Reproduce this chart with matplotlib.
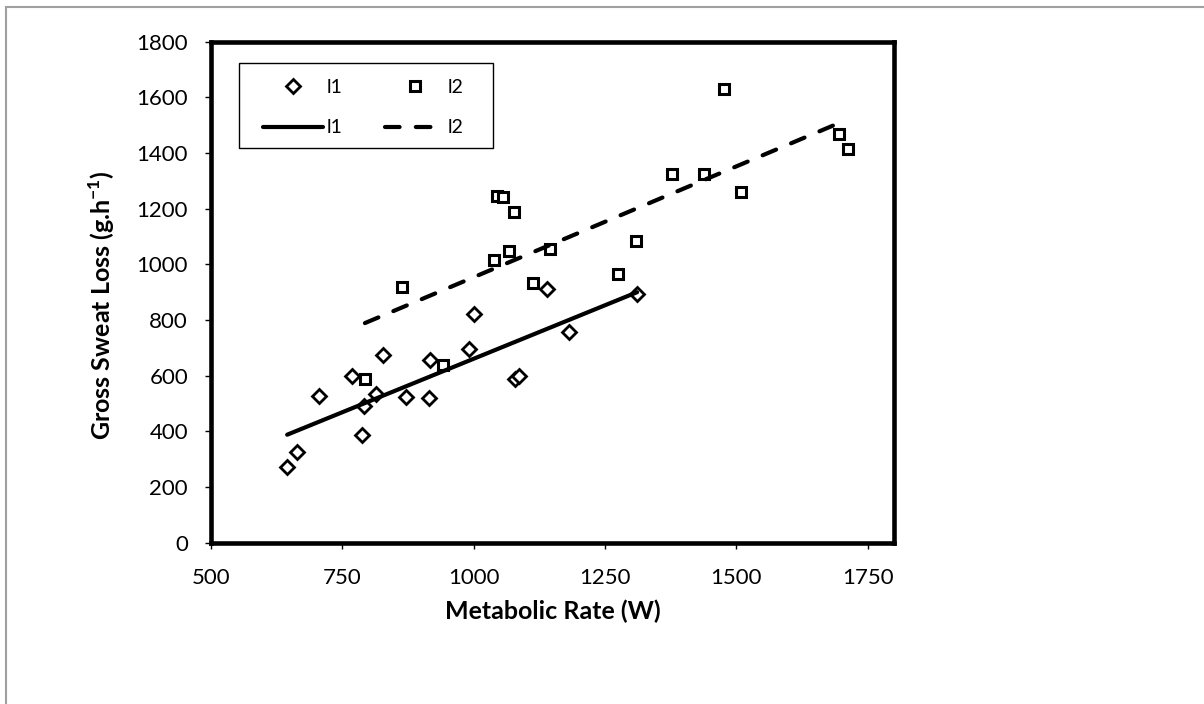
import matplotlib
matplotlib.use("Agg")
import matplotlib.pyplot as plt
from matplotlib.patches import Rectangle

plt.rcParams['font.family'] = ['Lato', 'DejaVu Sans']
plt.rcParams['mathtext.fontset'] = 'custom'
plt.rcParams['mathtext.rm'] = 'Lato'
plt.rcParams['mathtext.bf'] = 'Lato:bold'

# l1 (diamonds)
l1_x = [645, 664, 706, 768, 792, 788, 814, 828, 872, 915, 917, 992, 1000, 1078, 1086, 1181, 1140, 1311]
l1_y = [273, 325, 528, 600, 492, 387, 534, 674, 525, 521, 656, 696, 822, 588, 600, 756, 911, 893]
# l2 (squares)
l2_x = [793, 864, 942, 1039, 1044, 1056, 1067, 1076, 1112, 1145, 1274, 1309, 1378, 1438, 1476, 1508, 1695, 1712]
l2_y = [588, 920, 639, 1016, 1246, 1243, 1049, 1189, 932, 1054, 964, 1084, 1325, 1324, 1629, 1259, 1469, 1415]
# trend lines (end points)
l1_fit_x = [645, 1311]
l1_fit_y = [388, 900]
l2_fit_x = [793, 1702]
l2_fit_y = [789, 1513]

x_ticks = [500, 750, 1000, 1250, 1500, 1750]
y_ticks = [0, 200, 400, 600, 800, 1000, 1200, 1400, 1600, 1800]

fig = plt.figure(figsize=(12.04, 7.04), dpi=100)
ax = fig.add_axes([211/1204, 1-542.7/704, 683/1204, 501/704])

d, = ax.plot(l1_x, l1_y, 'D', ms=7.5, mfc='white', mec='black', mew=2, label='l1')
s, = ax.plot(l2_x, l2_y, 's', ms=6.5, mfc='white', mec='black', mew=2.2, label='l2')
f1, = ax.plot(l1_fit_x, l1_fit_y, '-', color='black', lw=3, solid_capstyle='round', label='l1')
f2, = ax.plot(l2_fit_x, l2_fit_y, color='black', lw=3, linestyle=(0, (3.5, 3.9)),
              dash_capstyle='round', label='l2')

ax.set_xlim(500, 1800)
ax.set_ylim(0, 1800)
ax.set_xticks(x_ticks)
ax.set_yticks(y_ticks)
ax.tick_params(direction='out', length=4.5, width=1, labelsize=16)
ax.tick_params(axis='x', pad=14)
ax.tick_params(axis='y', pad=12)
for sp in ax.spines.values():
    sp.set_linewidth(3.3)

ax.set_xlabel('Metabolic Rate (W)', fontsize=18, fontweight='bold', labelpad=8)
ax.set_ylabel(r'Gross Sweat Loss (g.h$^{\mathbf{-1}}$)', fontsize=18, fontweight='bold')
ax.yaxis.set_label_coords(-0.137, 0.475)

# legend without its own frame; box drawn separately
leg = ax.legend([d, f1, s, f2], ['l1', 'l1', 'l2', 'l2'], ncol=2, loc='upper left',
                bbox_to_anchor=((263-211)/683, (542.7-79)/501), borderaxespad=0,
                borderpad=0, fontsize=14, frameon=False,
                handlelength=3.1, columnspacing=2.2, labelspacing=1.2,
                handletextpad=0.15)
ax.add_patch(Rectangle(((239-211)/683, (542.7-148)/501), 254/683, 85/501,
                       transform=ax.transAxes, fill=False, edgecolor='black',
                       lw=1, zorder=5))

fig.add_artist(Rectangle((5.5/1204, -0.05), 1.2, (704-6.5)/704 + 0.05,
                         transform=fig.transFigure, fill=False,
                         edgecolor='#a0a0a0', lw=1.5))

fig.savefig('out.png', dpi=100)
